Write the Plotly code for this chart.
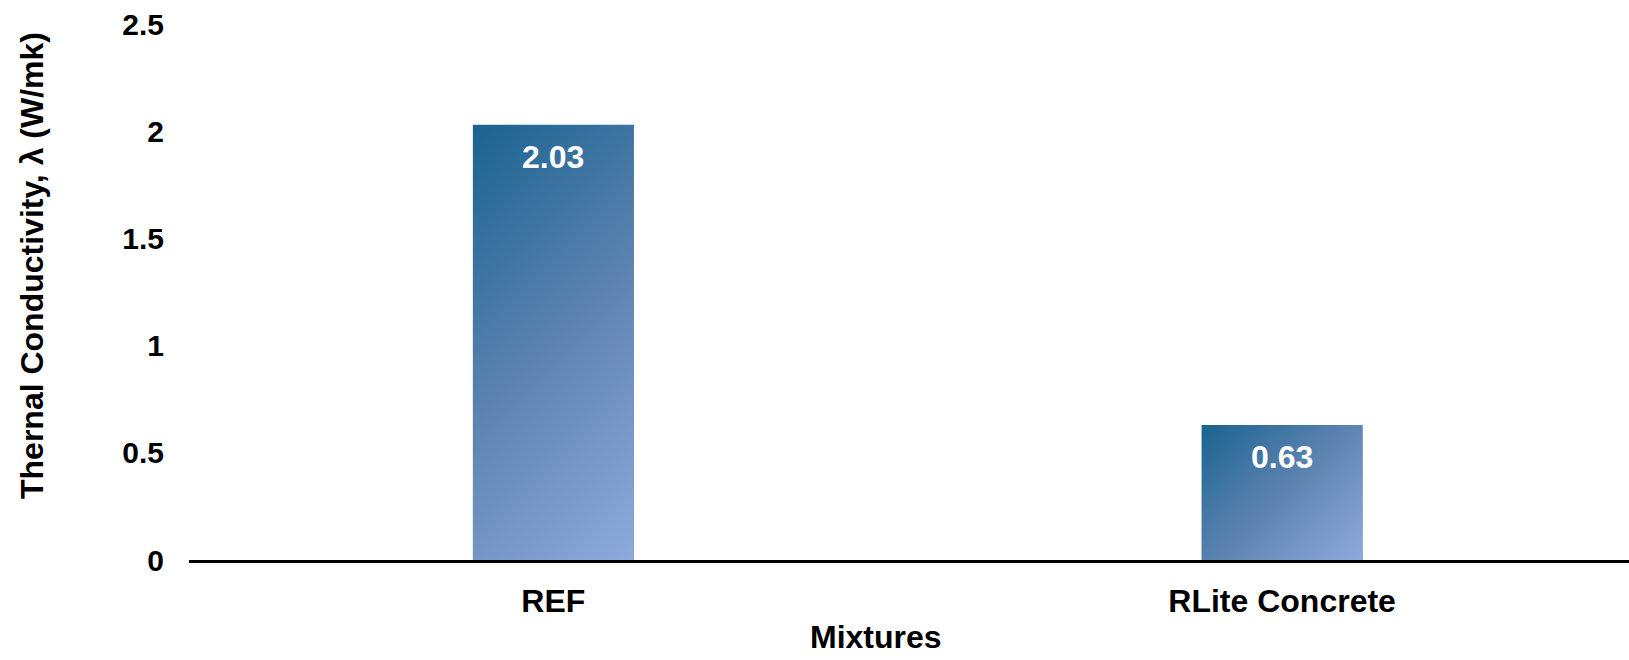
import base64
import plotly.graph_objects as go

categories = ["REF", "RLite Concrete"]
values = [2.03, 0.63]
value_labels = ["2.03", "0.63"]
y_ticks = [0, 0.5, 1, 1.5, 2, 2.5]
y_tick_labels = ["0", "0.5", "1", "1.5", "2", "2.5"]

W, H = 1629, 660
ML, MR, MT, MB = 189, 0, 24, 100
X_RANGE = [-0.5, 1.476]
Y_RANGE = [0, 2.5]
BAR_W = 0.221
FONT = "Liberation Sans, Arial, sans-serif"
C0, CM, C1 = "#1a6390", "#5d83b1", "#8faadd"

px_x = (W - ML - MR) / (X_RANGE[1] - X_RANGE[0])
px_y = (H - MT - MB) / (Y_RANGE[1] - Y_RANGE[0])


def grad_uri(wpx, hpx):
    L = (wpx + hpx) / 2
    svg = (
        f'<svg xmlns="http://www.w3.org/2000/svg" width="{wpx:.1f}" height="{hpx:.1f}" '
        f'viewBox="0 0 {wpx:.1f} {hpx:.1f}" preserveAspectRatio="none">'
        f'<defs><linearGradient id="g" gradientUnits="userSpaceOnUse" x1="0" y1="0" x2="{L:.1f}" y2="{L:.1f}">'
        f'<stop offset="0" stop-color="{C0}"/><stop offset="0.5" stop-color="{CM}"/>'
        f'<stop offset="1" stop-color="{C1}"/></linearGradient></defs>'
        f'<rect x="0" y="0" width="{wpx:.1f}" height="{hpx:.1f}" fill="url(#g)"/></svg>'
    )
    return "data:image/svg+xml;base64," + base64.b64encode(svg.encode()).decode()


xs = list(range(len(categories)))

fig = go.Figure()
fig.add_trace(go.Bar(
    x=xs, y=values, width=BAR_W,
    marker=dict(color="#5d83b1", line=dict(width=0)),
    hoverinfo="skip", showlegend=False,
))

images = []
annotations = []
for i, v in zip(xs, values):
    images.append(dict(
        source=grad_uri(BAR_W * px_x, v * px_y),
        xref="x", yref="y", x=i - BAR_W / 2, y=v,
        sizex=BAR_W, sizey=v, xanchor="left", yanchor="top",
        sizing="stretch", layer="above",
    ))
for i, v, t in zip(xs, values, value_labels):
    annotations.append(dict(
        x=i, y=v, xref="x", yref="y", text=t, showarrow=False,
        yanchor="top", yshift=-12,
        font=dict(family=FONT, size=32, color="white", weight="bold"),
    ))

annotations.append(dict(
    x=(876 - ML) / (W - ML - MR), y=0, xref="paper", yref="paper",
    yanchor="top", xanchor="center",
    text="Mixtures", showarrow=False, yshift=-57,
    font=dict(family=FONT, size=32, color="black", weight="bold"),
))
annotations.append(dict(
    x=0, y=0.5, xref="paper", yref="paper", xanchor="center", yanchor="middle",
    text="Thernal Conductivity, \u03bb (W/mk)", showarrow=False, textangle=-90,
    xshift=-157, yshift=26,
    font=dict(family=FONT, size=32, color="black", weight="bold"),
))

fig.update_layout(
    width=W, height=H,
    margin=dict(l=ML, r=MR, t=MT, b=MB, pad=0),
    paper_bgcolor="white", plot_bgcolor="white",
    images=images, annotations=annotations,
    xaxis=dict(
        range=X_RANGE, tickmode="array", tickvals=xs, ticktext=categories,
        showgrid=False, zeroline=False, showline=True, linecolor="black", linewidth=3,
        ticks="", ticklabelstandoff=11,
        tickfont=dict(family=FONT, size=32, color="black", weight="bold"),
    ),
    yaxis=dict(
        range=Y_RANGE, tickmode="array", tickvals=y_ticks, ticktext=y_tick_labels,
        showgrid=False, zeroline=False, showline=False, ticks="",
        ticklabelstandoff=24,
        tickfont=dict(family=FONT, size=30, color="black", weight="bold"),
    ),
)

fig.write_html("out.html")
